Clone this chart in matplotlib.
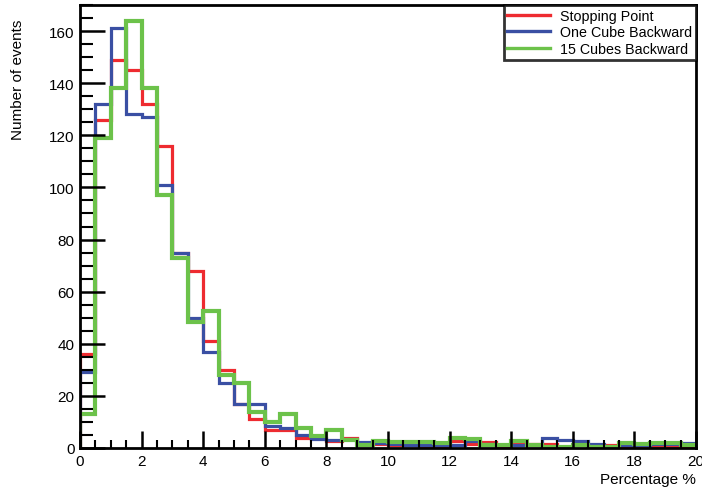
import numpy as np
import matplotlib
matplotlib.use("Agg")
import matplotlib.pyplot as plt
from matplotlib.ticker import MultipleLocator
from matplotlib.lines import Line2D

plt.rcParams['font.family'] = ['Liberation Sans', 'DejaVu Sans']

# Bin edges: 40 bins of 0.5 % from 0 to 20 %
bin_edges = np.arange(0, 20.01, 0.5)

stopping_point = [36, 126, 149, 145, 132, 116, 75, 68, 41, 30, 17, 11, 7, 7, 4, 4,
                  2.5, 4, 2, 1.5, 1, 1, 0.3, 0, 2.5, 1.5, 2.2, 0.5, 1.5, 1.5,
                  1.5, 0.5, 1.5, 0.5, 1, 0.3, 0.3, 0.5, 0.7, 0.3]
one_cube_backward = [29, 132, 161, 128, 127, 101, 75, 50, 37, 25, 17, 17, 8.5, 7.5, 5, 3.5,
                     3, 3.5, 2.4, 2, 1.5, 1.2, 1, 1, 1, 2.5, 1.5, 1, 1, 1,
                     4, 3, 2.5, 1.5, 0.5, 1, 1, 1.5, 1.5, 1.8]
fifteen_cubes_backward = [13, 119, 138, 164, 138, 97, 73, 48.5, 52.5, 28, 25, 14, 10, 13, 7.5, 4.5,
                          7, 3, 1, 2.8, 2.2, 2.2, 2.2, 2, 4, 3.5, 1, 1, 2.5, 1,
                          0.5, 0.5, 1, 0.5, 0.5, 2, 1.5, 2, 2, 1]

series = [
    ("Stopping Point", stopping_point, "#ee2b30", 2.3),
    ("One Cube Backward", one_cube_backward, "#3a4fa3", 2.3),
    ("15 Cubes Backward", fifteen_cubes_backward, "#6cc24a", 3.0),
]

fig = plt.figure(figsize=(7.02, 4.89), dpi=100)
ax = fig.add_axes([80 / 702, 40 / 489, 616 / 702, 443 / 489])

for label, values, color, lw in series:
    ax.stairs(values, bin_edges, color=color, lw=lw, baseline=0, label=label)

ax.set_xlim(0, 20)
ax.set_ylim(0, 170)

ax.xaxis.set_major_locator(MultipleLocator(2))
ax.xaxis.set_minor_locator(MultipleLocator(0.5))
ax.yaxis.set_major_locator(MultipleLocator(20))
ax.yaxis.set_minor_locator(MultipleLocator(5))

ax.tick_params(axis='x', which='major', direction='in', length=12, width=1.8, labelsize=11, pad=4)
ax.tick_params(axis='x', which='minor', direction='in', length=6, width=1.5)
ax.tick_params(axis='y', which='major', direction='in', length=18, width=1.8, labelsize=11, pad=4)
ax.tick_params(axis='y', which='minor', direction='in', length=9, width=1.5)

for side, sp in ax.spines.items():
    sp.set_linewidth(2.0)
    sp.set_color('black')

ax.text(1.0, -0.055, "Percentage %", transform=ax.transAxes, ha='right', va='top', fontsize=11)
fig.text(18 / 702, 1 - 80 / 489, "Number of events", rotation=90, ha='center', va='center', fontsize=11)

handles = [Line2D([0], [0], color=c, lw=2.4) for _, _, c, _ in series]
labels = [s[0] for s in series]
leg = ax.legend(handles, labels, loc='upper right', bbox_to_anchor=(1.0, 1.0),
                frameon=True, fancybox=False, fontsize=10.3, handlelength=3.0,
                borderpad=0.25, labelspacing=0.2, handletextpad=0.7, borderaxespad=0.0)
leg.get_frame().set_edgecolor('black')
leg.get_frame().set_linewidth(2.0)

fig.savefig("out.png", dpi=100)
